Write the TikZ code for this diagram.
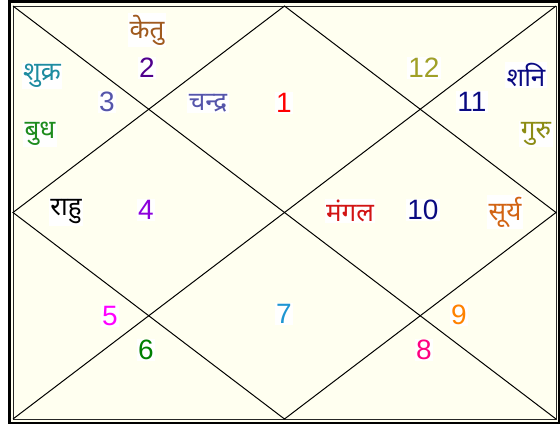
\documentclass[tikz,border=0pt]{standalone}
\usepackage{fontspec}
\setmainfont{Liberation Sans}
\newfontfamily\deva[Script=Devanagari]{Noto Sans}
\definecolor{cream}{RGB}{255,255,240}
\definecolor{cketu}{RGB}{160,90,30}
\definecolor{cpurple}{RGB}{80,0,140}
\definecolor{cteal}{RGB}{30,140,160}
\definecolor{cslate}{RGB}{85,85,170}
\definecolor{cgreen}{RGB}{30,140,30}
\definecolor{colive}{RGB}{160,160,40}
\definecolor{cnavy}{RGB}{10,10,130}
\definecolor{cguru}{RGB}{140,140,20}
\definecolor{cviolet}{RGB}{140,0,220}
\definecolor{cmangal}{RGB}{210,20,20}
\definecolor{csurya}{RGB}{210,100,20}
\definecolor{cmagenta}{RGB}{255,0,255}
\definecolor{cdgreen}{RGB}{0,128,0}
\definecolor{csky}{RGB}{30,150,210}
\definecolor{corange}{RGB}{255,130,0}
\definecolor{cpink}{RGB}{255,0,128}
\tikzset{
  num/.style={fill=white,inner sep=1pt,font=\fontsize{28}{30}\selectfont},
  pl/.style={fill=white,inner sep=1.5pt,font=\deva\fontsize{26}{28}\selectfont},
  ln/.style={line width=1pt,black}
}
\begin{document}
\begin{tikzpicture}[x=1pt,y=-1pt]
\useasboundingbox (0,0) rectangle (560,424);
\fill[white] (0,0) rectangle (560,424);
\draw[line width=2.5pt,fill=cream] (9.25,1.25) rectangle (559.5,422.75);
\draw[line width=1pt,black!85] (13,6) rectangle (556,419);
\coordinate (tl) at (13,6);
\coordinate (tr) at (556,6);
\coordinate (bl) at (13,419);
\coordinate (br) at (556,419);
\coordinate (mt) at (284.5,6);
\coordinate (mr) at (556,212.5);
\coordinate (mb) at (284.5,419);
\coordinate (ml) at (13,212.5);
\draw[ln] (tl) -- (br);
\draw[ln] (bl) -- (tr);
\draw[ln] (mt) -- (mr) -- (mb) -- (ml) -- cycle;
% houses
\node[num,text=cpurple] (h2) at (147,68) {2};
\node[num,text=cslate] (h3) at (107,102) {3};
\node[num,text=red] (h1) at (284,103) {1};
\node[num,text=colive] (h12) at (424,68) {12};
\node[num,text=cnavy] (h11) at (472,102) {11};
\node[num,text=cviolet] (h4) at (146,210) {4};
\node[num,text=cnavy] (h10) at (423,210) {10};
\node[num,text=cmagenta] (h5) at (110,316) {5};
\node[num,text=cdgreen] (h6) at (146,350) {6};
\node[num,text=csky] (h7) at (284,314) {7};
\node[num,text=corange] (h9) at (459,315) {9};
\node[num,text=cpink] (h8) at (424,350) {8};
% planets
\node[pl,text=cketu] (ketu) at (147,30) {केतु};
\node[pl,text=cteal] (shukra) at (42,76) {शुक्र};
\node[pl,text=cgreen] (budh) at (40,134) {बुध};
\node[pl,text=cslate] (chandra) at (208,103) {चन्द्र};
\node[pl,text=cnavy] (shani) at (526,75) {शनि};
\node[pl,text=cguru] (guru) at (536,134) {गुरु};
\node[pl,text=black] (rahu) at (66,212) {राहु};
\node[pl,text=cmangal] (mangal) at (350,211) {मंगल};
\node[pl,text=csurya] (surya) at (505,212) {सूर्य};
\end{tikzpicture}
\end{document}
